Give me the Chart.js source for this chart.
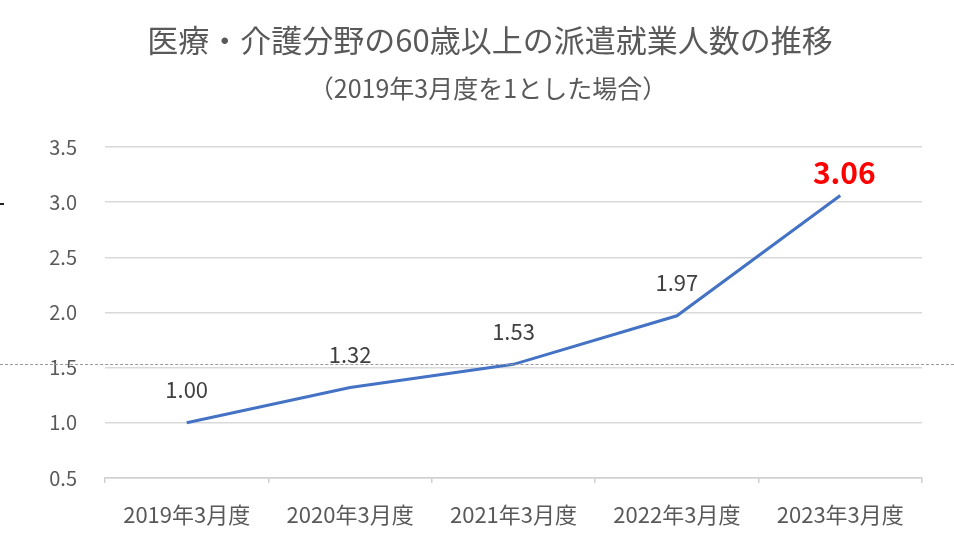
<!DOCTYPE html>
<html>
<head>
<meta charset="utf-8">
<script src="https://cdn.jsdelivr.net/npm/chart.js@4"></script>
<style>
  html, body { margin: 0; padding: 0; background: #fff; }
  #wrap { position: relative; width: 954px; height: 553px; }
  #dash { position: absolute; left: 0; top: 364px; width: 954px; border-top: 1px dashed #9a9a9a; }
  #mark { position: absolute; left: 0; top: 203px; width: 4px; height: 2px; background: #222; }
</style>
</head>
<body>
<div id="wrap">
  <canvas id="trendChart" width="954" height="553"></canvas>
  <div id="dash"></div>
  <div id="mark"></div>
</div>
<script>
var years = ['2019年3月度', '2020年3月度', '2021年3月度', '2022年3月度', '2023年3月度'];
var ratios = [1.00, 1.32, 1.53, 1.97, 3.06];
var yTicks = [0.5, 1.0, 1.5, 2.0, 2.5, 3.0, 3.5];
var titleText = '医療・介護分野の60歳以上の派遣就業人数の推移';
var subtitleText = '（2019年3月度を1とした場合）';

var FONT = "'Noto Sans CJK JP', 'Noto Sans', sans-serif";
var GREY = '#595959';

// title block sits a little left of the plot centre, like the original
var headings = {
    id: 'headings',
    afterDraw: function (chart) {
        var ctx = chart.ctx;
        ctx.save();
        ctx.textAlign = 'center';
        ctx.textBaseline = 'middle';
        ctx.fillStyle = GREY;
        ctx.font = '31px ' + FONT;
        ctx.fillText(titleText, 490, 40);
        ctx.font = '25px ' + FONT;
        ctx.fillText(subtitleText, 488, 88);
        ctx.restore();
    }
};

// value labels above the line; the last one is highlighted
var valueLabels = {
    id: 'valueLabels',
    afterDatasetsDraw: function (chart) {
        var ctx = chart.ctx;
        var pts = chart.getDatasetMeta(0).data;
        ctx.save();
        ctx.textAlign = 'center';
        ctx.textBaseline = 'middle';
        pts.forEach(function (p, i) {
            var last = i === pts.length - 1;
            if (last) {
                ctx.font = 'bold 30px ' + FONT;
                ctx.fillStyle = '#ff0000';
                ctx.fillText(ratios[i].toFixed(2), p.x + 4, p.y - 23);
            } else {
                ctx.font = '22px ' + FONT;
                ctx.fillStyle = '#404040';
                ctx.fillText(ratios[i].toFixed(2), p.x, p.y - 33);
            }
        });
        ctx.restore();
    }
};

var ctx = document.getElementById('trendChart').getContext('2d');
var trendChart = new Chart(ctx, {
    type: 'line',
    data: {
        labels: years,
        datasets: [{
            data: ratios,
            borderColor: '#4472c4',
            borderWidth: 3,
            pointRadius: 0,
            tension: 0,
            fill: false
        }]
    },
    options: {
        responsive: false,
        animation: false,
        layout: { padding: { left: 0, right: 32, top: 147, bottom: 0 } },
        plugins: {
            legend: { display: false },
            tooltip: { enabled: false },
            title: { display: false }
        },
        scales: {
            x: {
                offset: true,
                grid: {
                    offset: true,
                    drawOnChartArea: false,
                    drawTicks: true,
                    tickLength: 5,
                    color: '#d0d0d0',
                    lineWidth: 1.5
                },
                border: { display: true, color: '#d0d0d0', width: 1.5 },
                ticks: {
                    color: GREY,
                    font: { family: FONT, size: 22 },
                    padding: 18,
                    maxRotation: 0
                },
                afterFit: function (scale) { scale.height = 75; }
            },
            y: {
                min: yTicks[0],
                max: yTicks[yTicks.length - 1],
                grid: {
                    color: '#d9d9d9',
                    lineWidth: 1.5,
                    drawTicks: false
                },
                border: { display: false },
                ticks: {
                    stepSize: 0.5,
                    color: GREY,
                    font: { family: FONT, size: 20 },
                    padding: 28,
                    callback: function (v) { return Number(v).toFixed(1); }
                },
                afterFit: function (scale) { scale.width = 105; }
            }
        }
    },
    plugins: [valueLabels, headings]
});
</script>
</body>
</html>
